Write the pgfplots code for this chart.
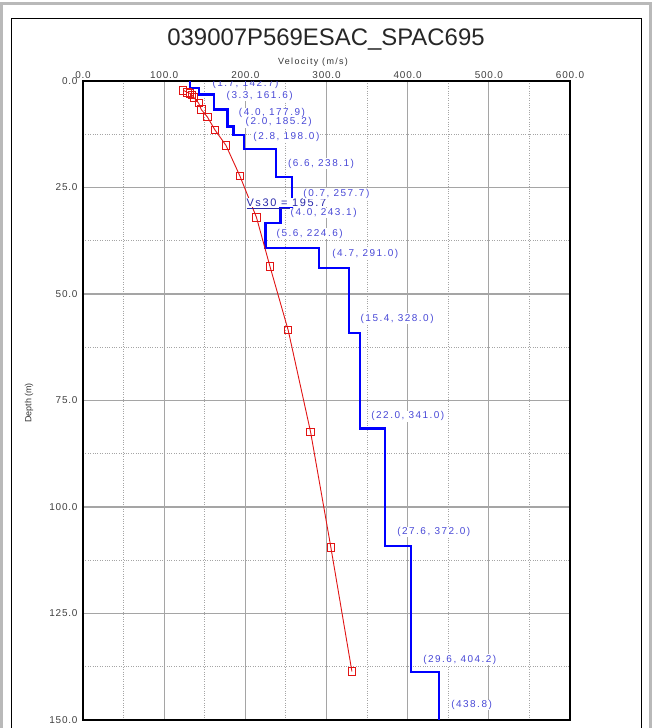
\documentclass[border=0pt]{standalone}
\usepackage{pgfplots}
\pgfplotsset{compat=1.18}
\usepackage{fontspec}
\setmainfont{Liberation Sans}
\newfontfamily\annfont[LetterSpace=15]{Liberation Sans}
\newfontfamily\tickfont[LetterSpace=8]{Liberation Sans}
\definecolor{anncol}{RGB}{72,72,215}
\definecolor{vscol}{RGB}{40,40,170}
\definecolor{gridc}{RGB}{165,165,165}
\definecolor{redc}{RGB}{225,20,20}
\begin{document}
\begin{tikzpicture}[x=1bp,y=1bp,
  ann/.style={font=\annfont\fontsize{10}{12}\selectfont, text=anncol, fill=white, inner sep=0.6bp, anchor=west}]
\useasboundingbox (0,0) rectangle (652,728);
\draw[gray!55, line width=3bp] (1.5,-10) -- (1.5,724.5) -- (650.5,724.5) -- (650.5,-10);
\draw[black, line width=1bp] (11.5,-10) -- (11.5,709) -- (641,709) -- (641,-10);
\node[font=\fontsize{24}{28}\selectfont, text=black!85] at (326,688) {039007P569ESAC\_SPAC695};
\node[font=\annfont\fontsize{9}{11}\selectfont, text=black!80] at (313,666) {Velocity (m/s)};
\node[font=\fontsize{9}{11}\selectfont, text=black!80, rotate=90] at (29,325) {Depth (m)};
\begin{axis}[
  at={(83bp,8bp)}, anchor=south west,
  width=487bp, height=639bp, scale only axis,
  xmin=0, xmax=600, ymin=0, ymax=150, y dir=reverse,
  xtick={0,100,...,600}, ytick={0,25,...,150},
  minor x tick num=1, minor y tick num=1,
  xticklabel pos=upper,
  /pgf/number format/assume math mode=true,
  xticklabel={\pgfmathprintnumber[fixed,fixed zerofill,precision=1]{\tick}},
  yticklabel={\pgfmathprintnumber[fixed,fixed zerofill,precision=1]{\tick}},
  tick label style={font=\tickfont\fontsize{10}{12}\selectfont, text=black!75},
  xticklabel style={yshift=-1bp},
  yticklabel style={xshift=-2bp},
  grid=both,
  major grid style={gridc, line width=1.3bp},
  minor grid style={gridc, dotted, line width=0.9bp},
  major tick style={draw=none}, minor tick style={draw=none},
  axis line style={black, line width=1.6bp},
  clip=true,
]
% Vs step profile
\addplot[blue, line width=2.4bp, line join=miter] coordinates {
(131.5,0) (131.5,1.7) (142.7,1.7) (142.7,3.2) (161.6,3.2) (161.6,6.7)
(177.9,6.7) (177.9,10.7) (185.2,10.7) (185.2,12.7) (198.0,12.7) (198.0,16.0)
(238.1,16.0) (238.1,22.6) (257.7,22.6) (257.7,29.8) (243.1,29.8) (243.1,33.4)
(224.6,33.4) (224.6,39.2) (291.0,39.2) (291.0,43.9) (328.0,43.9) (328.0,59.2)
(341.0,59.2) (341.0,81.6) (372.0,81.6) (372.0,109.2) (404.2,109.2) (404.2,138.8)
(438.8,138.8) (438.8,150)};
% dispersion / apparent velocity curve
\addplot[redc, line width=0.9bp, mark=square, mark size=3.7bp, mark options={solid, line width=0.9bp, fill=none}] coordinates {
(123.5,2.2) (128.9,2.7) (131.8,2.9) (134.2,3.3) (136.7,3.9) (142.5,5.2)
(145.7,6.7) (153.1,8.4) (162.6,11.5) (176.1,15.1) (193.3,22.3) (213.7,32.0)
(230.3,43.5) (252.8,58.5) (280.4,82.4) (305.4,109.5) (331.3,138.6)};
% Vs30 marker
\node[ann, text=vscol, font=\annfont\fontsize{11}{13}\selectfont] at (axis cs:200.5,28.6) {Vs30 = 195.7};
\addplot[vscol, line width=1.3bp] coordinates {(201.6,29.9) (300,29.9)};
% layer annotations
\node[ann] at (axis cs:176.1,3.4) {(3.3, 161.6)};
\node[ann] at (axis cs:191.2,7.5) {(4.0, 177.9)};
\node[ann] at (axis cs:199.5,9.7) {(2.0, 185.2)};
\node[ann] at (axis cs:209.0,13.2) {(2.8, 198.0)};
\node[ann] at (axis cs:251.6,19.4) {(6.6, 238.1)};
\node[ann] at (axis cs:270.6,26.4) {(0.7, 257.7)};
\node[ann] at (axis cs:254.9,31.0) {(4.0, 243.1)};
\node[ann] at (axis cs:237.7,35.8) {(5.6, 224.6)};
\node[ann] at (axis cs:306.3,40.5) {(4.7, 291.0)};
\node[ann] at (axis cs:341.1,55.8) {(15.4, 328.0)};
\node[ann] at (axis cs:354.3,78.7) {(22.0, 341.0)};
\node[ann] at (axis cs:386.3,105.9) {(27.6, 372.0)};
\node[ann] at (axis cs:418.3,135.8) {(29.6, 404.2)};
\node[ann] at (axis cs:452.8,146.5) {(438.8)};
\end{axis}
\begin{scope}
\clip (83,8) rectangle (570,646.2);
\node[font=\annfont\fontsize{10}{12}\selectfont, text=anncol, inner sep=0.6bp, anchor=west] at (211.7,643.6) {(1.7, 142.7)};
\end{scope}
\end{tikzpicture}
\end{document}
